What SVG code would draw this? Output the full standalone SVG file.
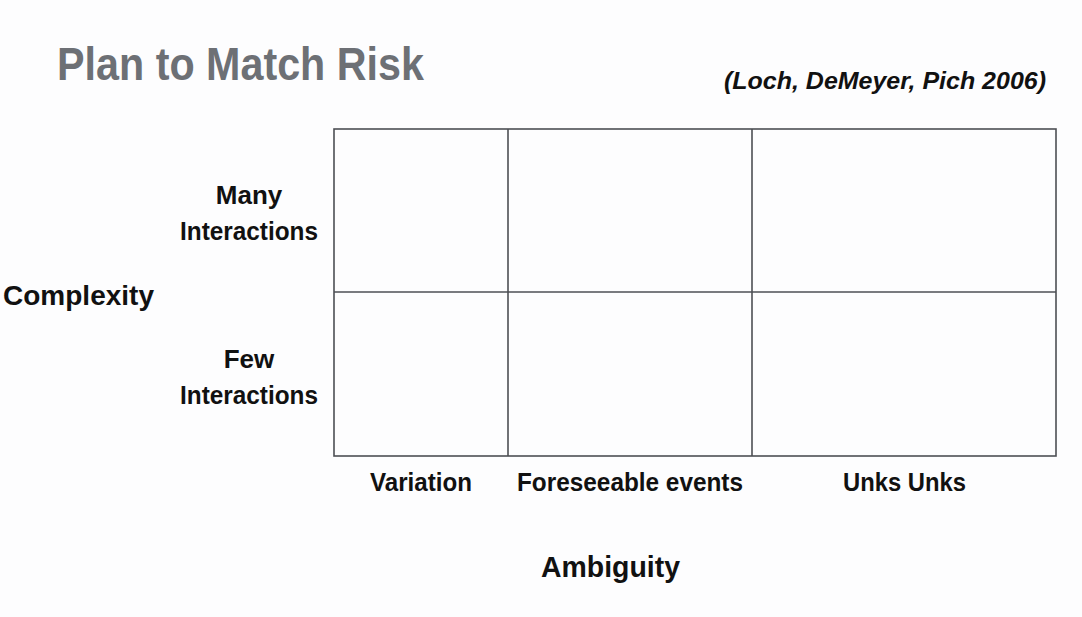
<svg xmlns="http://www.w3.org/2000/svg" width="1082" height="617" viewBox="0 0 1082 617">
  <style>
    .lbl { font-family: "Liberation Sans", Arial, sans-serif; font-weight: bold; fill: #111; }
    .grid { stroke: #4d4f54; stroke-width: 1.6; fill: none; }
  </style>
  <rect width="1082" height="617" fill="#fdfdfe"/>
  <g id="title">
    <text x="57" y="80" font-family="Liberation Sans, Arial, sans-serif" font-weight="bold" font-size="47" fill="#6d7075" textLength="367" lengthAdjust="spacingAndGlyphs">Plan to Match Risk</text>
  </g>
  <g id="citation">
    <text x="724" y="89" class="lbl" font-style="italic" font-size="24" textLength="322" lengthAdjust="spacingAndGlyphs">(Loch, DeMeyer, Pich 2006)</text>
  </g>
  <!-- 3x2 matrix -->
  <g id="matrix">
    <rect class="grid" x="334" y="129" width="722" height="327"/>
    <line class="grid" x1="508" y1="129" x2="508" y2="456"/>
    <line class="grid" x1="752" y1="129" x2="752" y2="456"/>
    <line class="grid" x1="334" y1="292" x2="1056" y2="292"/>
  </g>
  <g id="row-many">
    <text class="lbl" font-size="26" x="249" y="204" text-anchor="middle">Many</text>
    <text class="lbl" font-size="26" x="180" y="240" textLength="138" lengthAdjust="spacingAndGlyphs">Interactions</text>
  </g>
  <g id="row-few">
    <text class="lbl" font-size="26" x="249" y="368" text-anchor="middle">Few</text>
    <text class="lbl" font-size="26" x="180" y="404" textLength="138" lengthAdjust="spacingAndGlyphs">Interactions</text>
  </g>
  <g id="axis-complexity">
    <text class="lbl" font-size="28" x="3" y="305" textLength="151" lengthAdjust="spacingAndGlyphs">Complexity</text>
  </g>
  <g id="col-variation">
    <text class="lbl" font-size="26" x="370" y="491" textLength="102" lengthAdjust="spacingAndGlyphs">Variation</text>
  </g>
  <g id="col-foreseeable">
    <text class="lbl" font-size="26" x="517" y="491" textLength="226" lengthAdjust="spacingAndGlyphs">Foreseeable events</text>
  </g>
  <g id="col-unkunk">
    <text class="lbl" font-size="26" x="843" y="491" textLength="123" lengthAdjust="spacingAndGlyphs">Unks Unks</text>
  </g>
  <g id="axis-ambiguity">
    <text class="lbl" font-size="29" x="541" y="577" textLength="139" lengthAdjust="spacingAndGlyphs">Ambiguity</text>
  </g>
</svg>
